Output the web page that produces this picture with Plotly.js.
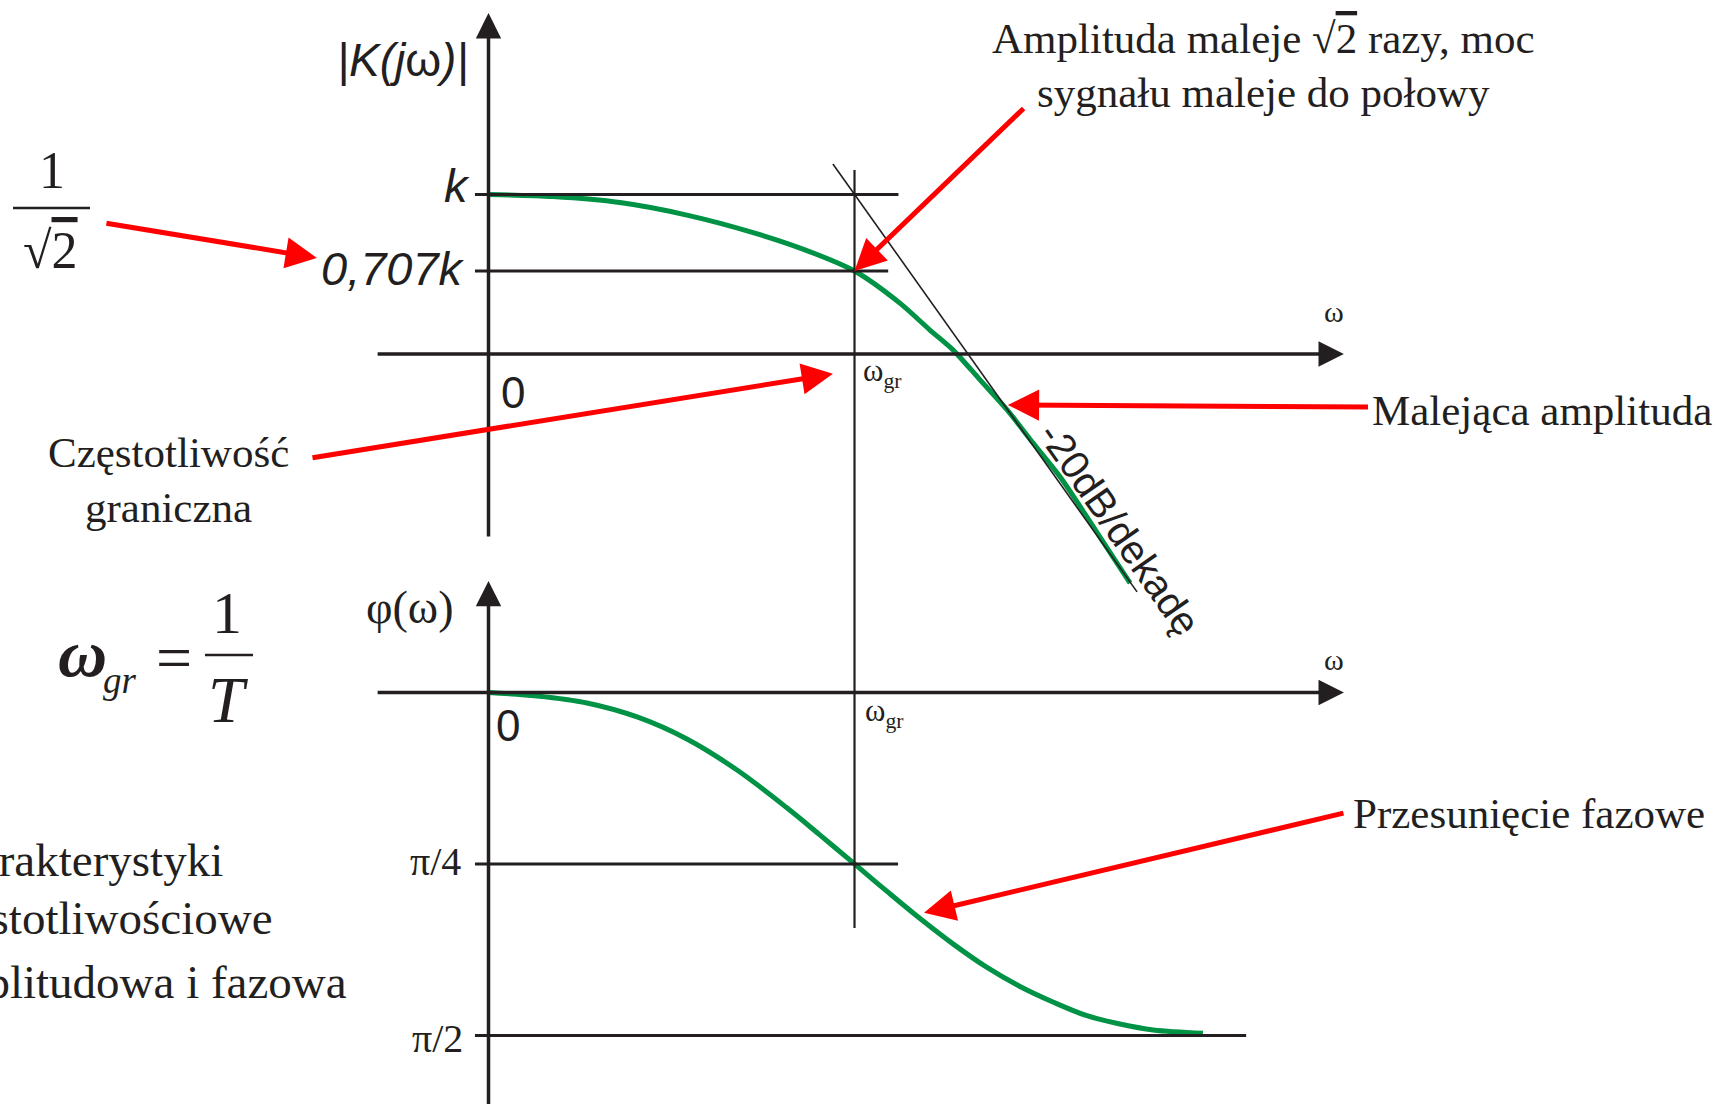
<!DOCTYPE html>
<html>
<head>
<meta charset="utf-8">
<script src="https://cdn.plot.ly/plotly-3.0.1.min.js"></script>
<style>
  html, body { margin: 0; padding: 0; background: #ffffff; }
  #chart { width: 1729px; height: 1104px; }
</style>
</head>
<body>
<div id="chart"></div>
<script>
// Frequency ω is expressed in units of the corner frequency ω_gr (ω_gr = 1).
// Amplitude characteristic |K(jω)| in units of k.
const magOmega = [0, 0.176, 0.359, 0.542, 0.723, 0.859, 1.0, 1.124, 1.206, 1.269, 1.343, 1.417, 1.488, 1.562, 1.635, 1.706, 1.753];
const magValue = [1.000, 0.992, 0.969, 0.921, 0.854, 0.791, 0.707, 0.584, 0.481, 0.405, 0.290, 0.175, 0.048, -0.082, -0.235, -0.388, -0.488];

// -20 dB/decade asymptote through (ω_gr, k)
const asymOmega = [0.941, 1.772];
const asymValue = [1.117, -0.522];

// Phase characteristic φ(ω) in radians (drawn downwards)
const phaseOmega = [0, 0.133, 0.269, 0.406, 0.542, 0.679, 0.816, 0.906, 1.0, 1.089, 1.179, 1.269, 1.362, 1.452, 1.542, 1.635, 1.725, 1.816, 1.952];
const phaseShift = [0, 0.016, 0.048, 0.112, 0.213, 0.355, 0.529, 0.653, 0.785, 0.911, 1.035, 1.151, 1.259, 1.346, 1.417, 1.480, 1.518, 1.545, 1.560];

// Reference levels and their labels
const magLevels = [1, 0.707];
const magLevelLabels = ['k', '0,707k'];
const magLevelEnds = [1.12, 1.092];
const phaseLevels = [Math.PI / 4, Math.PI / 2];
const phaseLevelLabels = ['π/4', 'π/2'];
const phaseLevelEnds = [1.119, 2.07];
const cornerOmega = 1;
const omegaAxisLevel = 0.389;   // amplitude level at which the ω axis of the upper plot runs

// ---------------------------------------------------------------------------
const W = 1729, H = 1104;
const INK = '#231f20', GREEN = '#009245', RED = '#ff0000';
const SERIF = 'Liberation Serif, Times New Roman, serif';
const SANS = 'Liberation Sans, Arial, sans-serif';
const px = v => v / W;          // page x (pixels) -> paper fraction
const py = v => 1 - v / H;      // page y (pixels) -> paper fraction

const traces = [
  { x: magOmega, y: magValue, type: 'scatter', mode: 'lines', xaxis: 'x', yaxis: 'y',
    line: { color: GREEN, width: 5, shape: 'spline', smoothing: 0.8 }, hoverinfo: 'skip' },
  { x: asymOmega, y: asymValue, type: 'scatter', mode: 'lines', xaxis: 'x', yaxis: 'y',
    line: { color: INK, width: 1.6 }, hoverinfo: 'skip' },
  { x: phaseOmega, y: phaseShift, type: 'scatter', mode: 'lines', xaxis: 'x', yaxis: 'y2',
    line: { color: GREEN, width: 5, shape: 'spline', smoothing: 1 }, hoverinfo: 'skip' }
];

const tickStart = -0.037;
const shapes = [];
magLevels.forEach((lv, i) => shapes.push({ type: 'line', xref: 'x', yref: 'y',
  x0: tickStart, x1: magLevelEnds[i], y0: lv, y1: lv, line: { color: INK, width: 3 } }));
phaseLevels.forEach((lv, i) => shapes.push({ type: 'line', xref: 'x', yref: 'y2',
  x0: tickStart, x1: phaseLevelEnds[i], y0: lv, y1: lv, line: { color: INK, width: 3 } }));
// vertical line at the corner frequency, running through both plots
shapes.push({ type: 'line', xref: 'x', yref: 'paper', x0: cornerOmega, x1: cornerOmega,
  y0: py(928), y1: py(170), line: { color: INK, width: 2.2 } });
// fraction bars of 1/√2 and 1/T
shapes.push({ type: 'line', xref: 'paper', yref: 'paper', x0: px(13), x1: px(90), y0: py(208), y1: py(208), line: { color: INK, width: 2.5 } });
shapes.push({ type: 'line', xref: 'paper', yref: 'paper', x0: px(205), x1: px(253), y0: py(655), y1: py(655), line: { color: INK, width: 2.5 } });

function arrow(yref, x, y, ax, ay, color, width, size) {
  return { xref: 'x', yref: yref, axref: 'x', ayref: yref, x: x, y: y, ax: ax, ay: ay,
    text: '', showarrow: true, arrowhead: 2, arrowsize: size, arrowwidth: width,
    arrowcolor: color, standoff: 0, startstandoff: 0 };
}
function txt(text, xref, yref, x, y, family, size, xanchor, extra) {
  return Object.assign({ xref: xref, yref: yref, x: x, y: y, text: text, showarrow: false,
    xanchor: xanchor || 'center', yanchor: 'middle',
    font: { family: family, size: size, color: INK } }, extra || {});
}
const SQRT2 = '√<span style="text-decoration:overline">2</span>';

const annotations = [
  // axes with arrowheads
  arrow('y', 0, 1.695, 0, -0.316, INK, 3.5, 1.45),
  arrow('y', 2.337, omegaAxisLevel, -0.307, omegaAxisLevel, INK, 3.5, 1.45),
  arrow('y2', 0, -0.511, 0, 1.95, INK, 3.5, 1.45),
  arrow('y2', 2.337, 0, -0.307, 0, INK, 3.5, 1.45),

  // red pointers
  arrow('y', -0.469, 0.757, -1.048, 0.891, RED, 5, 1.25),
  arrow('y', cornerOmega, magLevels[1], 1.466, 1.335, RED, 5, 1.25),
  arrow('y', 0.941, 0.313, -0.485, -0.009, RED, 5, 1.25),
  arrow('y', 1.419, 0.194, 2.407, 0.186, RED, 5, 1.25),
  arrow('y2', 1.190, 1.009, 2.340, 0.551, RED, 5, 1.25),

  // upper plot labels
  txt('<i>|K(j</i>ω<i>)|</i>', 'x', 'y', -0.236, 1.515, SANS, 46),
  txt('<i>' + magLevelLabels[0] + '</i>', 'x', 'y', -0.046, 1.036, SANS, 47, 'right'),
  txt('<i>' + magLevelLabels[1] + '</i>', 'x', 'y', -0.060, 0.718, SANS, 47, 'right'),
  txt('0', 'x', 'y', 0.066, 0.240, SANS, 44),
  txt('ω', 'x', 'y', 2.310, 0.550, SERIF, 30),
  txt('ω<sub>gr</sub>', 'x', 'y', 1.018, 0.316, SERIF, 31, 'left'),
  txt('-20dB/dekadę', 'x', 'y', 1.725, -0.281, SANS, 40, 'center', { textangle: 55 }),

  // lower plot labels
  txt('φ(ω)', 'x', 'y2', -0.217, -0.387, SERIF, 46),
  txt('0', 'x', 'y2', 0.053, 0.153, SANS, 44),
  txt('ω', 'x', 'y2', 2.310, -0.149, SERIF, 30),
  txt('ω<sub>gr</sub>', 'x', 'y2', 1.023, 0.094, SERIF, 31, 'left'),
  txt(phaseLevelLabels[0], 'x', 'y2', -0.069, 0.776, SERIF, 40, 'right'),
  txt(phaseLevelLabels[1], 'x', 'y2', -0.064, 1.582, SERIF, 40, 'right'),

  // descriptions
  txt('1', 'paper', 'paper', px(51.5), py(170), SERIF, 52),
  txt(SQRT2, 'paper', 'paper', px(50.5), py(250), SERIF, 52),
  txt('Amplituda maleje ' + SQRT2 + ' razy, moc', 'paper', 'paper', px(1263), py(38), SERIF, 43),
  txt('sygnału maleje do połowy', 'paper', 'paper', px(1263), py(93), SERIF, 43),
  txt('Częstotliwość', 'paper', 'paper', px(168), py(452), SERIF, 43),
  txt('graniczna', 'paper', 'paper', px(168), py(507), SERIF, 43),
  txt('Malejąca amplituda', 'paper', 'paper', px(1370), py(411), SERIF, 43, 'left'),
  txt('Przesunięcie fazowe', 'paper', 'paper', px(1351), py(813), SERIF, 43, 'left'),
  txt('Charakterystyki', 'paper', 'paper', px(225), py(860), SERIF, 47, 'right'),
  txt('częstotliwościowe', 'paper', 'paper', px(275), py(918), SERIF, 47, 'right'),
  txt('amplitudowa i fazowa', 'paper', 'paper', px(349), py(982), SERIF, 47, 'right'),

  // ω_gr = 1/T
  txt('<b><i>ω</i></b>', 'paper', 'paper', px(82), py(653), SERIF, 68),
  txt('<i>gr</i>', 'paper', 'paper', px(101), py(680), SERIF, 37, 'left'),
  txt('=', 'paper', 'paper', px(174), py(657), SERIF, 64),
  txt('1', 'paper', 'paper', px(227), py(613), SERIF, 60),
  txt('<i>T</i>', 'paper', 'paper', px(228), py(700), SERIF, 65)
];

const hidden = { visible: false, showgrid: false, zeroline: false, fixedrange: true };
const layout = {
  width: W, height: H,
  margin: { l: 0, r: 0, t: 0, b: 0, pad: 0 },
  paper_bgcolor: '#ffffff', plot_bgcolor: '#ffffff',
  showlegend: false,
  xaxis: Object.assign({ range: [-1.3347, 3.3893], domain: [0, 1] }, hidden),
  yaxis: Object.assign({ range: [-2.4833, 1.7449], domain: [0, 1] }, hidden),
  yaxis2: Object.assign({ range: [1.8842, -3.1708], domain: [0, 1], overlaying: 'y', anchor: 'x' }, hidden),
  shapes: shapes,
  annotations: annotations
};

Plotly.newPlot('chart', traces, layout, { staticPlot: true, displayModeBar: false });
</script>
</body>
</html>
